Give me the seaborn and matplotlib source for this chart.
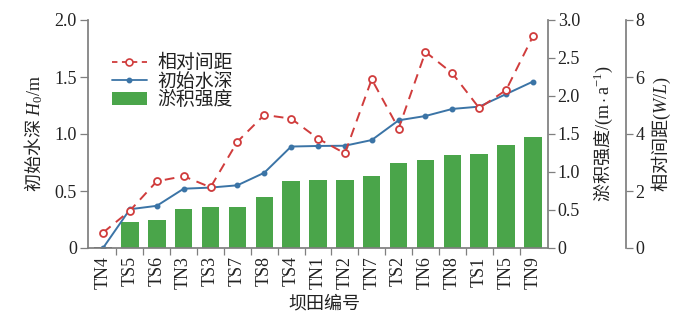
import numpy as np
import pandas as pd
import matplotlib
matplotlib.use("Agg")
import matplotlib.pyplot as plt
import seaborn as sns
from matplotlib.lines import Line2D
from matplotlib.patches import Patch

categories = ["TN4", "TS5", "TS6", "TN3", "TS3", "TS7", "TS8", "TS4", "TN1",
              "TN2", "TN7", "TS2", "TN6", "TN8", "TS1", "TN5", "TN9"]
depth = [0.0, 0.34, 0.37, 0.52, 0.53, 0.55, 0.66, 0.89, 0.895, 0.897, 0.947,
         1.12, 1.158, 1.22, 1.24, 1.35, 1.46]
siltation = [0.0, 0.346, 0.368, 0.513, 0.535, 0.543, 0.667, 0.886, 0.90, 0.90,
             0.947, 1.117, 1.158, 1.22, 1.24, 1.355, 1.46]
spacing = [0.54, 1.31, 2.34, 2.52, 2.13, 3.73, 4.67, 4.54, 3.84, 3.32, 5.92,
           4.19, 6.88, 6.13, 4.91, 5.54, 7.43]

sns.set_theme(style="ticks")
plt.rcParams["font.family"] = ["Liberation Serif", "Noto Sans CJK SC"]
plt.rcParams["mathtext.fontset"] = "custom"
plt.rcParams["mathtext.rm"] = "Liberation Serif"
plt.rcParams["mathtext.it"] = "Liberation Serif:italic"
plt.rcParams["mathtext.bf"] = "Liberation Serif:bold"
plt.rcParams["axes.edgecolor"] = "#7f7f7f"
plt.rcParams["xtick.color"] = "#7f7f7f"
plt.rcParams["ytick.color"] = "#7f7f7f"
plt.rcParams["xtick.labelcolor"] = "#222222"
plt.rcParams["ytick.labelcolor"] = "#222222"
plt.rcParams["text.color"] = "#222222"
plt.rcParams["axes.labelcolor"] = "#222222"

FS = 13
CJK = "Noto Sans CJK SC"
green = "#4aa54a"
blue = "#3b74a6"
red = "#d03c3c"

df = pd.DataFrame({"cat": categories, "depth": depth,
                   "silt": siltation, "spacing": spacing})

fig = plt.figure(figsize=(7.0, 3.24), dpi=100)
ax = fig.add_axes([88/700, 1-248/324, 460/700, 228/324])
ax2 = ax.twinx()
ax3 = ax.twinx()

sns.barplot(data=df, x="cat", y="silt", ax=ax2, color=green, width=0.65,
            saturation=1, edgecolor="none")
ax2.patches[0].set_edgecolor("#333333")
ax2.patches[0].set_linewidth(1.2)
sns.pointplot(data=df, x="cat", y="depth", ax=ax, color=blue, markers="o",
              linestyles="-", markersize=3.2, linewidth=1.4, errorbar=None)
sns.pointplot(data=df, x="cat", y="spacing", ax=ax3, color=red, markers="o",
              linestyles="--", markersize=5, linewidth=1.4, errorbar=None,
              markerfacecolor="white", markeredgewidth=1.3)
for ln in ax3.lines:
    ln.set_dashes([5, 3.5])

ax.set_zorder(ax2.get_zorder() + 1)
ax.patch.set_visible(False)
ax3.set_zorder(ax.get_zorder() + 1)
ax3.patch.set_visible(False)

n = len(categories)
ax.set_xlim(-0.56, n - 0.44)
ax.set_ylim(0, 2.0)
ax.set_yticks([0, 0.5, 1.0, 1.5, 2.0])
ax.set_yticklabels(["0", "0.5", "1.0", "1.5", "2.0"])
ax2.set_ylim(0, 3.0)
ax2.set_yticks([0, 0.5, 1.0, 1.5, 2.0, 2.5, 3.0])
ax2.set_yticklabels(["0", "0.5", "1.0", "1.5", "2.0", "2.5", "3.0"])
ax3.set_ylim(0, 8)
ax3.set_yticks([0, 2, 4, 6, 8])
ax3.set_yticklabels(["0", "2", "4", "6", "8"])
ax3.spines["right"].set_position(("outward", 56))

ax.set_xticks(np.arange(n))
ax.set_xticklabels(categories, rotation=90)
ax.set_xticks(np.arange(n - 1) + 0.5, minor=True)
ax.tick_params(axis="x", which="major", length=0, pad=6, labelsize=FS,
               labelcolor="#222222")
ax.tick_params(axis="x", which="minor", length=5, width=0.9)
for a, L in ((ax, 6), (ax2, 5), (ax3, 5)):
    a.tick_params(axis="y", length=L, width=0.9, pad=2, labelsize=FS,
                  labelcolor="#222222", color="#7f7f7f")
for a in (ax2, ax3):
    a.tick_params(axis="x", which="both", length=0, labelbottom=False)

for a in (ax, ax2, ax3):
    a.spines["top"].set_visible(False)
ax.spines["right"].set_visible(False)
ax3.spines["left"].set_visible(False)
ax3.spines["bottom"].set_visible(False)
ax2.spines["left"].set_visible(False)
ax2.spines["bottom"].set_visible(False)

ax.set_xlabel("坝田编号", fontsize=FS, fontfamily=CJK)
ax.set_ylabel(r"初始水深 $H_0/\mathrm{m}$", fontsize=FS, fontfamily=CJK)
ax2.set_ylabel(r"淤积强度$/(\mathrm{m}\cdot\mathrm{a}^{-1})$", fontsize=FS,
               fontfamily=CJK)
ax3.set_ylabel(r"相对间距$(W/L)$", fontsize=FS, fontfamily=CJK)
ax.xaxis.set_label_coords(0.515, -0.205)
ax.yaxis.set_label_coords(-0.0935, 0.5)
ax2.yaxis.set_label_coords(1.096, 0.5)
ax3.yaxis.set_label_coords(1.222, 0.5)
ax2.set_xlabel("")
ax3.set_xlabel("")

handles = [
    Line2D([], [], color=red, linestyle=(0, (3, 2.5)), marker="o", markersize=5,
           markerfacecolor="white", markeredgewidth=1.2, linewidth=1.3),
    Line2D([], [], color=blue, linestyle="-", marker="o", markersize=3.2,
           linewidth=1.3),
    Patch(facecolor=green, edgecolor="none"),
]
labels = ["相对间距", "初始水深", "淤积强度"]
ax3.legend(handles, labels, loc="upper left", bbox_to_anchor=(0.052, 0.85),
           frameon=False, fontsize=13.6, handlelength=1.85, handletextpad=0.55,
           labelspacing=0.02, borderaxespad=0, borderpad=0)

fig.savefig("out.png", dpi=100)
